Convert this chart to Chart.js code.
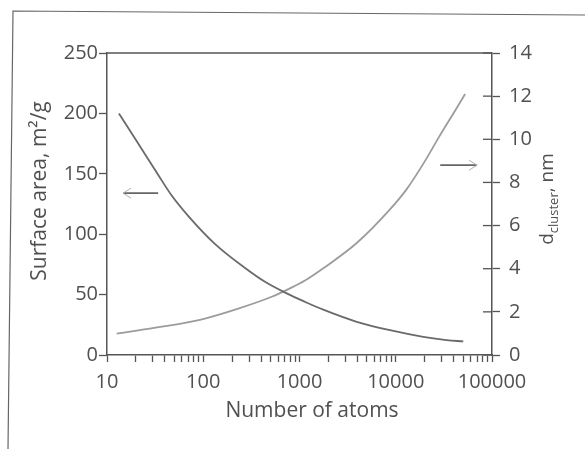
<!DOCTYPE html>
<html>
<head>
<meta charset="utf-8">
<script src="https://cdn.jsdelivr.net/npm/chart.js@4"></script>
<style>
  html, body { margin: 0; padding: 0; background: #fff; }
  #wrap { width: 585px; height: 449px; position: relative; }
</style>
</head>
<body>
<div id="wrap"><canvas id="c" width="585" height="449"></canvas></div>
<script>
// ---- data ----
const atomsSA = [13.3, 21.1, 34.1, 47, 70, 132, 272, 438, 736, 1140, 1766, 3930, 8710, 19300, 33800, 50300];
const surfaceArea = [200, 175, 149, 132, 115, 92, 72, 60.6, 51, 44, 37.5, 27.5, 20.5, 15, 12.3, 11.3];
const atomsD = [12.6, 21.1, 47, 104, 231, 514, 796, 1140, 1766, 3930, 8710, 13000, 19300, 28800, 43000, 52500];
const dCluster = [0.99, 1.14, 1.38, 1.69, 2.15, 2.70, 3.09, 3.45, 4.02, 5.19, 6.75, 7.69, 8.86, 10.18, 11.45, 12.1];
const xTickValues = [10, 100, 1000, 10000, 100000];
const leftTicks = [0, 50, 100, 150, 200, 250];
const rightTicks = [0, 2, 4, 6, 8, 10, 12, 14];
// annotation arrows (data coordinates)
const arrowLeftAtoms = [34, 14.7];   const arrowLeftValue = 134;
const arrowRightAtoms = [29000, 70000]; const arrowRightValue = 8.8;

const FONT = '"Open Sans", "DejaVu Sans", sans-serif';
const TXT = '#505050';
const AX = '#555';

const minorTicks = [];
for (let e = 1; e <= 4; e++) for (let s = 1; s <= 9; s++) minorTicks.push(s * Math.pow(10, e));
minorTicks.push(100000);

const framePlugin = {
  id: 'frame',
  beforeDraw(chart) {
    const c = chart.ctx;
    c.save();
    c.fillStyle = '#fff';
    c.fillRect(0, 0, chart.width, chart.height);
    c.strokeStyle = '#666';
    c.lineWidth = 1.2;
    c.beginPath();
    c.moveTo(8, 449); c.lineTo(13, 11); c.lineTo(585, 15);
    c.stroke();
    c.restore();
  },
  afterDraw(chart) {
    const c = chart.ctx;
    const a = chart.chartArea;
    const xs = chart.scales.x, ys = chart.scales.y, y2 = chart.scales.y2;
    c.save();
    // top border of plot
    c.strokeStyle = AX; c.lineWidth = 1.5;
    c.beginPath(); c.moveTo(a.left, a.top); c.lineTo(a.right, a.top); c.stroke();
    // inner part of right ticks
    c.lineWidth = 1.3;
    rightTicks.forEach(v => {
      const py = y2.getPixelForValue(v);
      c.beginPath(); c.moveTo(a.right - 9, py); c.lineTo(a.right, py); c.stroke();
    });
    // arrows
    function arrow(x0, x1, py, col) {
      const px0 = xs.getPixelForValue(x0), px1 = xs.getPixelForValue(x1);
      c.strokeStyle = col; c.lineWidth = 1.6;
      c.beginPath(); c.moveTo(px0, py); c.lineTo(px1, py); c.stroke();
      const dir = Math.sign(px1 - px0);
      c.strokeStyle = '#b0b0b0'; c.lineWidth = 1;
      c.beginPath();
      c.moveTo(px1 - dir * 8, py - 5); c.lineTo(px1, py); c.lineTo(px1 - dir * 8, py + 5);
      c.stroke();
    }
    arrow(arrowLeftAtoms[0], arrowLeftAtoms[1], ys.getPixelForValue(arrowLeftValue), '#666');
    arrow(arrowRightAtoms[0], arrowRightAtoms[1], y2.getPixelForValue(arrowRightValue), '#666');
    // axis titles
    c.fillStyle = TXT;
    c.textBaseline = 'middle';
    c.textAlign = 'center';
    c.font = '21px ' + FONT;
    c.fillText('Number of atoms', 312, 411);
    // left title
    c.save();
    c.translate(40, 191);
    c.rotate(-Math.PI / 2);
    c.fillText('Surface area, m\u00B2/g', 0, 0);
    c.restore();
    // right title with subscript
    c.save();
    c.translate(547, 199);
    c.rotate(-Math.PI / 2);
    c.textAlign = 'left';
    c.textBaseline = 'alphabetic';
    const big = '19px ' + FONT, small = '13px ' + FONT;
    c.font = big; const wd = c.measureText('d').width;
    c.font = small; const wc = c.measureText('cluster').width;
    c.font = big; const wn = c.measureText(', nm').width;
    let x = -(wd + wc + wn) / 2;
    const base = 6;
    c.font = big; c.fillText('d', x, base); x += wd;
    c.font = small; c.fillText('cluster', x, base + 5); x += wc;
    c.font = big; c.fillText(', nm', x, base);
    c.restore();
    c.restore();
  }
};

new Chart(document.getElementById('c'), {
  type: 'line',
  data: {
    datasets: [
      {
        label: 'Surface area',
        data: atomsSA.map((n, i) => ({ x: n, y: surfaceArea[i] })),
        yAxisID: 'y',
        borderColor: '#6a6a6a',
        borderWidth: 1.8,
        pointRadius: 0,
        cubicInterpolationMode: 'monotone',
        fill: false
      },
      {
        label: 'd cluster',
        data: atomsD.map((n, i) => ({ x: n, y: dCluster[i] })),
        yAxisID: 'y2',
        borderColor: '#9c9c9c',
        borderWidth: 1.8,
        pointRadius: 0,
        cubicInterpolationMode: 'monotone',
        fill: false
      }
    ]
  },
  options: {
    responsive: false,
    animation: false,
    layout: { padding: { top: 53, left: 0, right: 0, bottom: 0 } },
    plugins: { legend: { display: false }, tooltip: { enabled: false }, title: { display: false } },
    scales: {
      x: {
        type: 'logarithmic',
        min: 10, max: 100000,
        afterBuildTicks(s) { s.ticks = minorTicks.map(v => ({ value: v })); },
        afterFit(s) { s.height = 94; },
        border: { display: true, color: AX, width: 1.5 },
        grid: { drawOnChartArea: false, drawTicks: true, tickLength: 7, tickColor: AX, tickWidth: 1.3 },
        ticks: {
          autoSkip: false, maxRotation: 0, padding: 8,
          color: TXT, font: { family: FONT, size: 20 },
          callback: (v) => xTickValues.includes(v) ? String(v) : ''
        }
      },
      y: {
        position: 'left',
        min: 0, max: 250,
        afterBuildTicks(s) { s.ticks = leftTicks.map(v => ({ value: v })); },
        afterFit(s) { s.width = 107; },
        border: { display: true, color: AX, width: 1.5 },
        grid: { drawOnChartArea: false, drawTicks: true, tickLength: 8, tickColor: AX, tickWidth: 1.3 },
        ticks: { padding: 1, color: TXT, font: { family: FONT, size: 20 } }
      },
      y2: {
        position: 'right',
        min: 0, max: 14,
        afterBuildTicks(s) { s.ticks = rightTicks.map(v => ({ value: v })); },
        afterFit(s) { s.width = 93; },
        border: { display: true, color: AX, width: 1.5 },
        grid: { drawOnChartArea: false, drawTicks: true, tickLength: 8, tickColor: AX, tickWidth: 1.3 },
        ticks: { padding: 9, color: TXT, font: { family: FONT, size: 20 } }
      }
    }
  },
  plugins: [framePlugin]
});
</script>
</body>
</html>
